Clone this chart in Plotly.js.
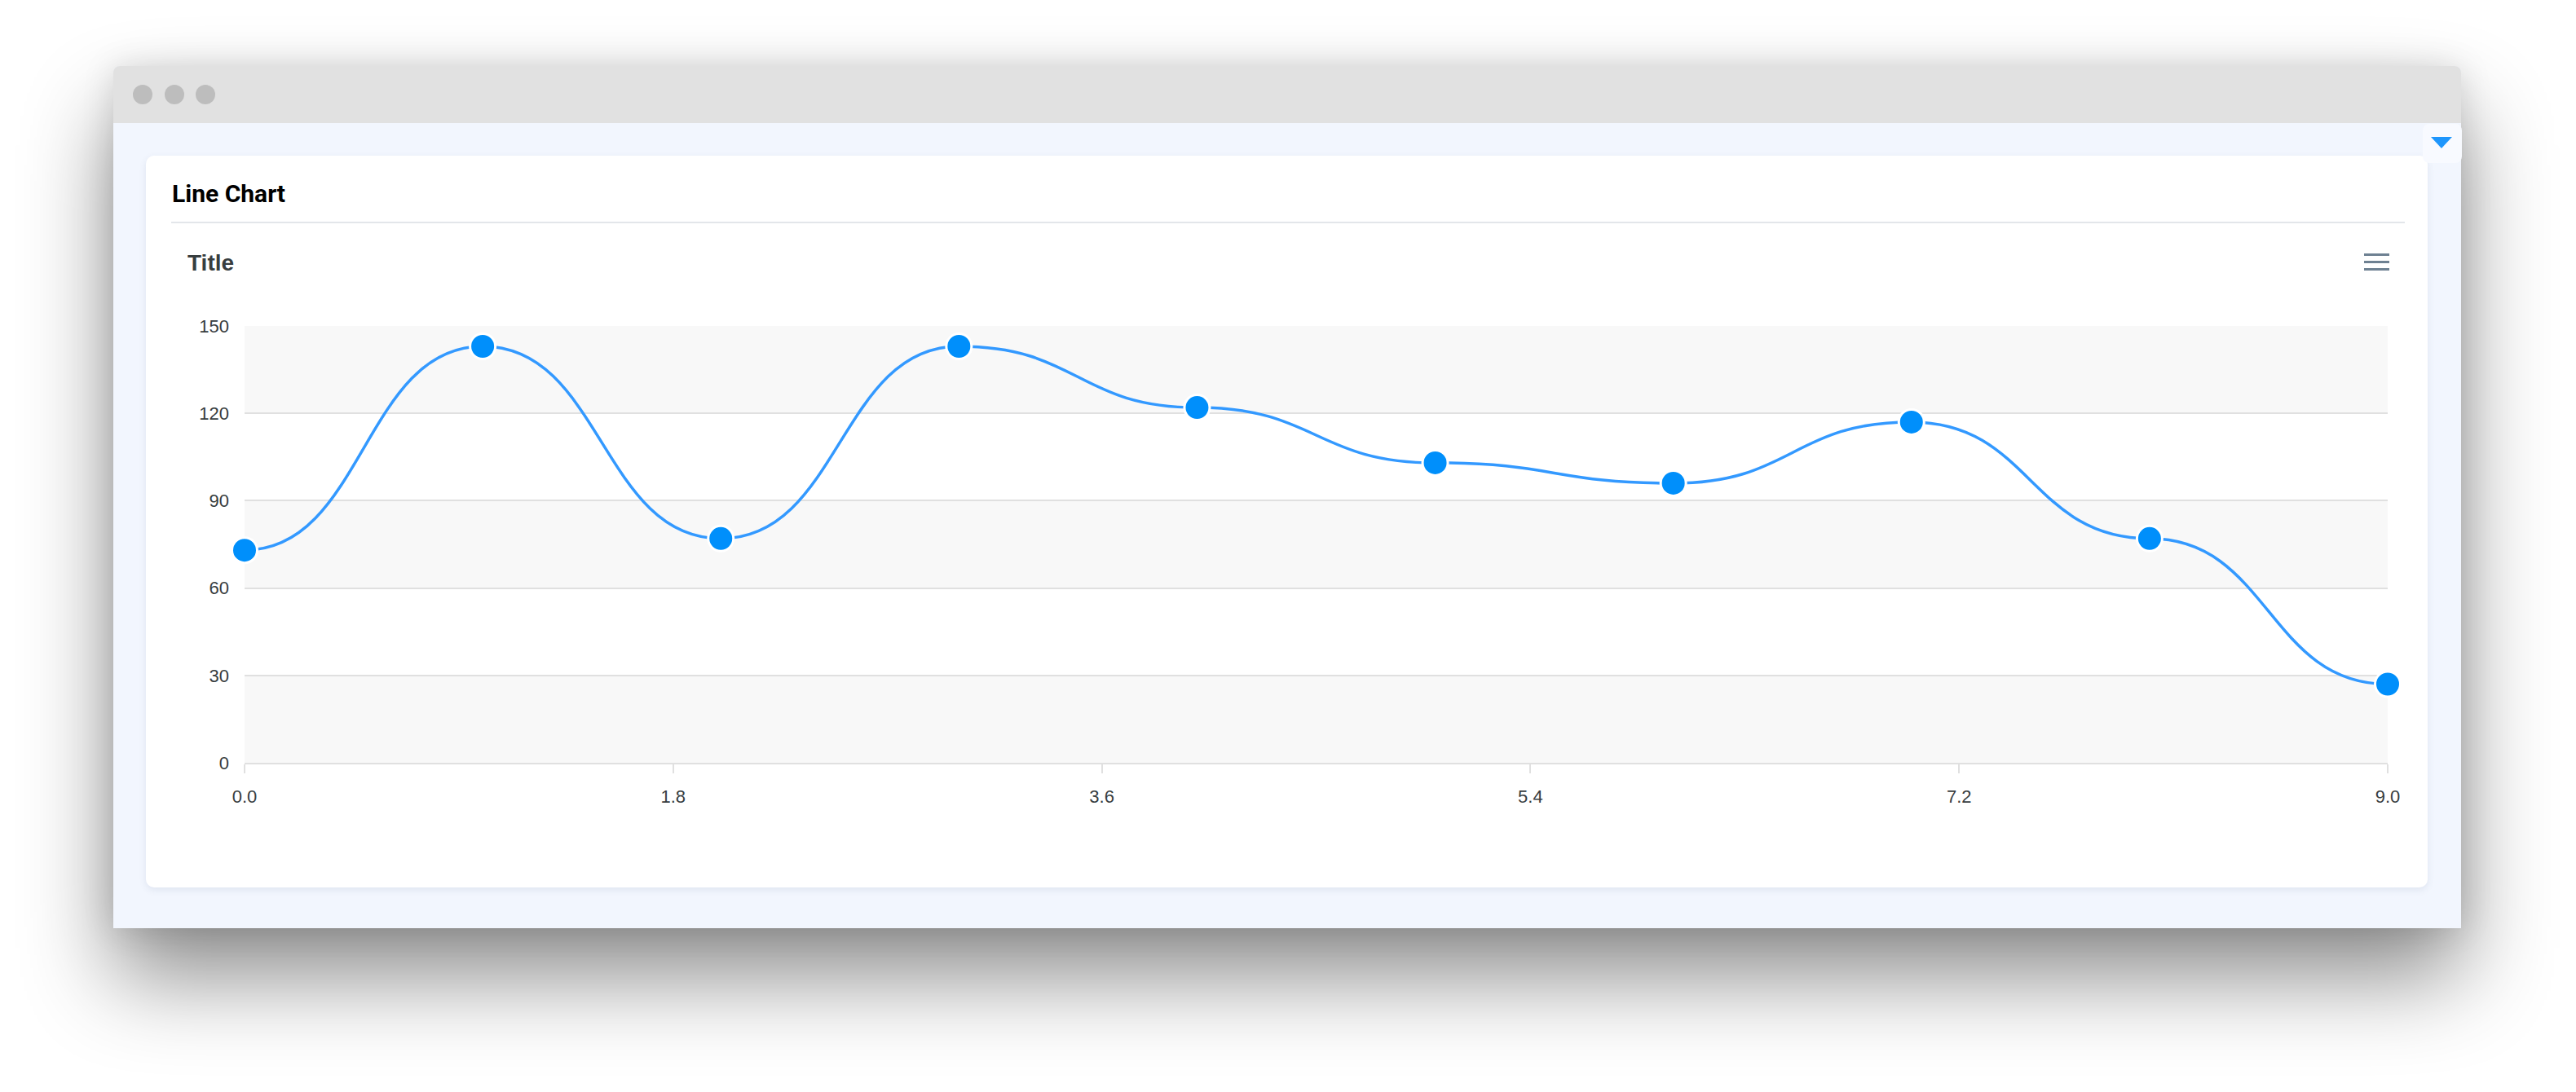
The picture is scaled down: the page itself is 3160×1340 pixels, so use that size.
<!DOCTYPE html>
<html>
<head>
<meta charset="utf-8">
<script src="https://cdn.plot.ly/plotly-3.0.1.min.js"></script>
<style>
  html, body { margin:0; padding:0; width:3160px; height:1340px; background:#ffffff; overflow:hidden; }
  #win { position:absolute; left:139px; top:81px; width:2880px; height:1058px; background:#f2f6fe;
         border-radius:8px 8px 0 0; box-shadow: 0 60px 110px rgba(0,0,0,0.45), 0 0 40px rgba(0,0,0,0.12); }
  #bar { position:absolute; left:0; top:0; width:100%; height:70px; background:#e1e1e1; border-radius:8px 8px 0 0; }
  .dot { position:absolute; top:23px; width:24px; height:24px; border-radius:50%; background:#bdbdbd; }
  #card { position:absolute; left:179px; top:191px; width:2799px; height:898px; background:#ffffff;
          border-radius:10px; box-shadow: 0 3px 8px rgba(60,80,120,0.10); }
  #hdr { position:absolute; left:211px; top:220px; font-family:Roboto, 'Liberation Sans', sans-serif; font-weight:700;
         font-size:30px; color:#000; line-height:36px; }
  #sep { position:absolute; left:210px; top:272px; width:2740px; height:2px; background:#e3e6ea; }
  #tog { position:absolute; left:2972px; top:152px; width:48px; height:48px; background:#f8faff; border-radius:8px; }
  #tri { position:absolute; left:2982px; top:168px; width:0; height:0; border-left:13px solid transparent;
         border-right:13px solid transparent; border-top:14px solid #1e96fc; }
  .hb { position:absolute; left:2900px; width:31px; height:3px; background:#6e8192; }
  #chart { position:absolute; left:0; top:0; width:3160px; height:1340px; }
</style>
</head>
<body>
<div id="win">
  <div id="bar">
    <div class="dot" style="left:24px"></div>
    <div class="dot" style="left:63px"></div>
    <div class="dot" style="left:101px"></div>
  </div>
</div>
<div id="card"></div>
<div id="hdr">Line Chart</div>
<div id="sep"></div>
<div id="tog"></div>
<div id="tri"></div>
<div class="hb" style="top:311px"></div>
<div class="hb" style="top:320px"></div>
<div class="hb" style="top:329px"></div>
<div id="chart"></div>
<script>
// ---- data ----
var xValues = [0, 1, 2, 3, 4, 5, 6, 7, 8, 9];
var yValues = [73, 143, 77, 143, 122, 103, 96, 117, 77, 27];
var xTicks = [0, 1.8, 3.6, 5.4, 7.2, 9.0];
var xTickLabels = ['0.0', '1.8', '3.6', '5.4', '7.2', '9.0'];
var yTicks = [0, 30, 60, 90, 120, 150];
var chartTitle = 'Title';

// alternating row bands built from the y ticks
var shapes = [];
for (var i = 0; i < yTicks.length - 1; i++) {
  if (i % 2 === 0) {
    shapes.push({type:'rect', xref:'paper', x0:0, x1:1, yref:'y', y0:yTicks[i], y1:yTicks[i+1],
                 fillcolor:'#f8f8f8', line:{width:0}, layer:'below'});
  }
}

// smooth line: cubic Bezier segments in data space (horizontal tangents at each point)
var path = 'M ' + xValues[0] + ',' + yValues[0];
for (var j = 0; j < xValues.length - 1; j++) {
  var mx = (xValues[j] + xValues[j+1]) / 2;
  path += ' C ' + mx + ',' + yValues[j] + ' ' + mx + ',' + yValues[j+1] + ' ' + xValues[j+1] + ',' + yValues[j+1];
}
shapes.push({type:'path', xref:'x', yref:'y', path:path, line:{color:'#3399ff', width:3.5}, layer:'between'});

var trace = {
  x: xValues, y: yValues, type:'scatter', mode:'markers',
  marker: {size:31, color:'#008ffb', line:{color:'#ffffff', width:3}},
  cliponaxis:false, hoverinfo:'x+y'
};

var axisFont = {family:"'Liberation Sans', Arial, sans-serif", size:22, color:'#373d3f'};

var layout = {
  width:3160, height:1340,
  margin:{l:300, r:231, t:400, b:404, pad:0},
  paper_bgcolor:'rgba(0,0,0,0)', plot_bgcolor:'rgba(0,0,0,0)',
  showlegend:false,
  title:{text:chartTitle, xref:'container', yref:'container', x:230/3160, y:1-322/1340,
         xanchor:'left', yanchor:'middle',
         font:{family:"'Liberation Sans', Arial, sans-serif", size:28, weight:700, color:'#373d3f'}},
  xaxis:{range:[0,9], tickvals:xTicks, ticktext:xTickLabels, showgrid:false, zeroline:false,
         showline:true, linecolor:'#e0e0e0', linewidth:2,
         ticks:'outside', ticklen:11, tickwidth:2, tickcolor:'#e0e0e0',
         ticklabelstandoff:10, tickfont:axisFont, fixedrange:true},
  yaxis:{range:[0,150], tickvals:yTicks, showgrid:true, gridcolor:'#e0e0e0', gridwidth:2,
         zeroline:false, showline:false, ticks:'', ticklabelstandoff:18, tickfont:axisFont, fixedrange:true},
  shapes:shapes
};

Plotly.newPlot('chart', [trace], layout, {displayModeBar:false, staticPlot:false});
</script>
</body>
</html>
